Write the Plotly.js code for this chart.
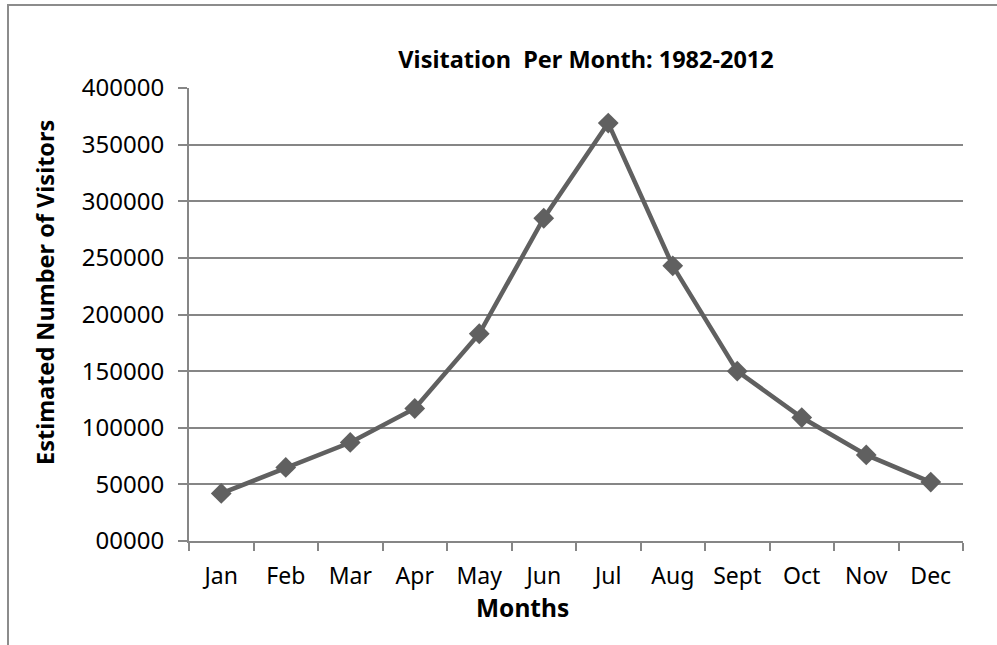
<!DOCTYPE html>
<html>
<head>
<meta charset="utf-8">
<script src="https://cdn.plot.ly/plotly-3.0.1.min.js"></script>
<style>
html,body{margin:0;padding:0;background:#fff;}
#wrap{position:relative;width:997px;height:645px;}
#chart{width:997px;height:645px;}
#frame{position:absolute;left:7px;top:4px;right:0;bottom:0;border-left:2px solid #8c8c8c;border-top:2px solid #8c8c8c;pointer-events:none;}
</style>
</head>
<body>
<div id="wrap"><div id="chart"></div><div id="frame"></div></div>
<script>
var months = ["Jan","Feb","Mar","Apr","May","Jun","Jul","Aug","Sept","Oct","Nov","Dec"];
var visitors = [42000, 65000, 87000, 117000, 183000, 285000, 369000, 243000, 150000, 109000, 76000, 52000];
var yTickVals = [0, 50000, 100000, 150000, 200000, 250000, 300000, 350000, 400000];
var yTickText = ["00000","50000","100000","150000","200000","250000","300000","350000","400000"];

var FONT = "Noto Sans, Open Sans, DejaVu Sans, sans-serif";
var gray = "#868686";

var trace = {
  x: months, y: visitors, type: "scatter", mode: "lines+markers",
  line: {color: "#606060", width: 4.5},
  marker: {symbol: "diamond", size: 16, color: "#606060"},
  hoverinfo: "skip"
};

var layout = {
  width: 997, height: 645,
  margin: {l: 189, r: 34, t: 88, b: 104},
  paper_bgcolor: "#fff", plot_bgcolor: "#fff",
  showlegend: false,
  font: {family: FONT, color: "#000", size: 22},
  title: {
    text: "<b>Visitation&nbsp; Per Month: 1982-2012</b>",
    font: {family: FONT, size: 23.5, color: "#000"},
    xref: "paper", x: 0.513, xanchor: "center",
    yref: "container", y: 1 - 60/645, yanchor: "middle"
  },
  xaxis: {
    type: "category", range: [-0.5, 11.5],
    showgrid: false, zeroline: false,
    showline: true, linecolor: gray, linewidth: 2,
    ticks: "outside", tickson: "boundaries", ticklen: 8, tickwidth: 2, tickcolor: gray,
    ticklabelstandoff: 13,
    tickfont: {family: FONT, size: 23, color: "#000"},
    fixedrange: true
  },
  yaxis: {
    range: [0, 400000],
    tickvals: yTickVals, ticktext: yTickText,
    showgrid: true, gridcolor: gray, gridwidth: 2,
    zeroline: false, showline: true, linecolor: gray, linewidth: 2,
    ticks: "outside", ticklen: 9, tickwidth: 2, tickcolor: gray,
    ticklabelstandoff: 9,
    tickfont: {family: FONT, size: 24, color: "#000"},
    fixedrange: true
  },
  annotations: [
    {text: "<b>Months</b>", xref: "paper", yref: "paper", x: (522-189)/774, y: (541-607)/453,
     xanchor: "center", yanchor: "middle", showarrow: false, font: {family: FONT, size: 24.5, color: "#000"}},
    {text: "<b>Estimated Number of Visitors</b>", xref: "paper", yref: "paper", x: (45-189)/774, y: (541-293)/453,
     xanchor: "center", yanchor: "middle", textangle: -90, showarrow: false, font: {family: FONT, size: 23.5, color: "#000"}}
  ]
};

Plotly.newPlot("chart", [trace], layout, {displayModeBar: false, staticPlot: true});
</script>
</body>
</html>
